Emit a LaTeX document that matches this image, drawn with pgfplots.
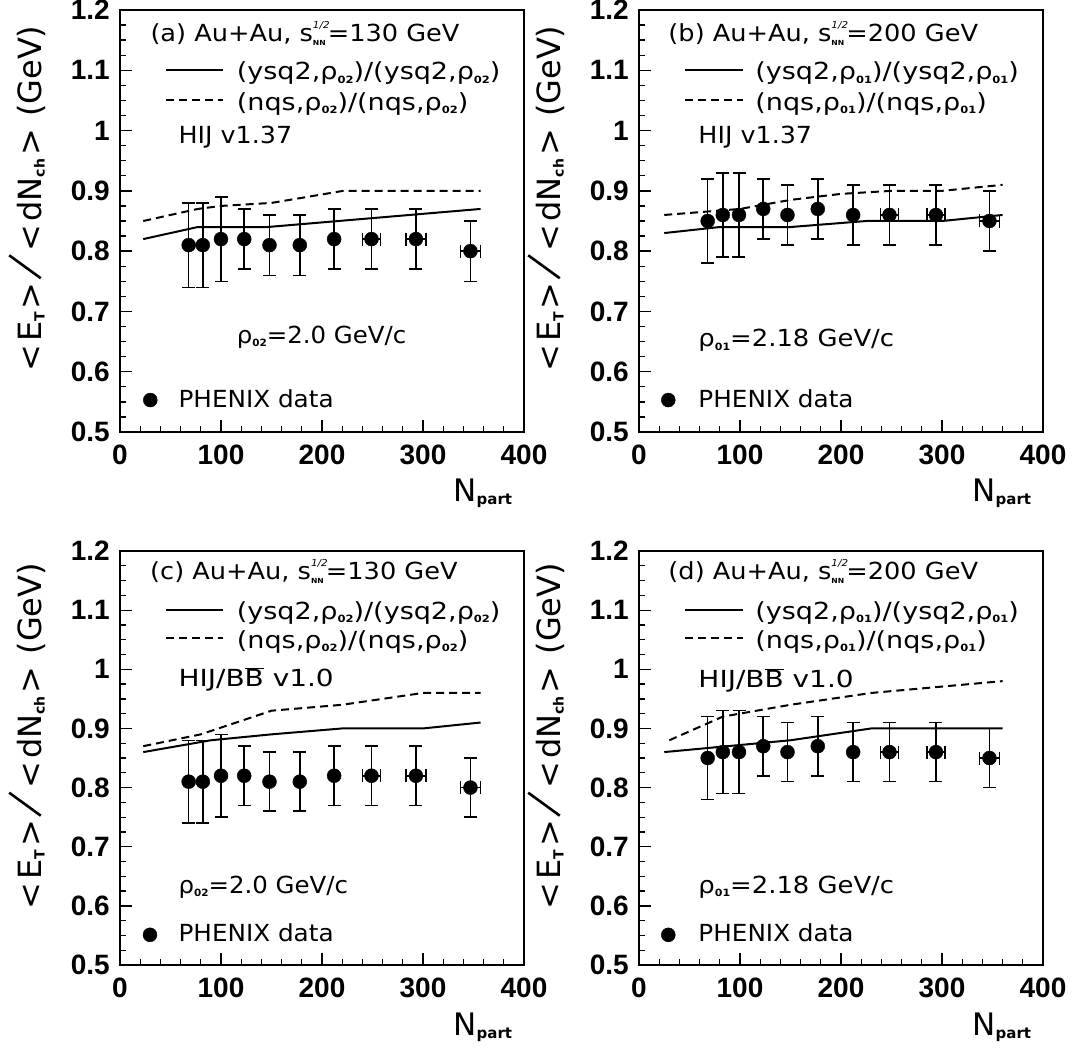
\documentclass[border=0pt]{standalone}
\usepackage{fontspec}
\usepackage{graphicx}
\usepackage{pgfplots}
\usepackage{pgfplotstable}
\pgfplotsset{compat=1.18}
\setmainfont{DejaVu Sans}
\newfontfamily\tickfont{Liberation Sans}
\newcommand{\ann}{\fontsize{23.5}{26}\selectfont}
\newcommand{\sx}[2]{\scalebox{#1}[1]{#2}}
\newcommand{\subs}[1]{\raisebox{-0.25ex}{\fontsize{10}{10}\selectfont\bfseries #1}}
\newcommand{\snn}{s\rlap{\raisebox{1.05ex}{\fontsize{9.5}{9.5}\selectfont\itshape 1/2}}\raisebox{-0.3ex}{\fontsize{7}{7}\selectfont\bfseries NN}\kern2pt}
\newcommand{\ysub}[1]{\raisebox{-3pt}{\fontsize{14}{14}\selectfont\bfseries #1}}
\newcommand{\bbar}{\(\overline{\hbox{B}}\)}
\newcommand{\yslash}{\rotatebox{54}{\rule{39pt}{2.6pt}}}
\newcommand{\yl}{<\kern3pt E\ysub{T}\kern3pt>\kern3pt\yslash\kern3pt<\kern3pt dN\ysub{ch}\kern3pt>\kern2pt\ (GeV)}

\pgfplotstableread{
x y ex ey
68 0.81 0 0.07
82 0.81 0 0.07
100 0.82 0 0.07
123 0.82 0 0.05
148 0.81 0 0.05
178 0.81 0 0.05
212 0.82 0 0.05
249 0.82 9 0.05
293 0.82 10 0.05
347 0.80 10 0.05
}\dataA
\pgfplotstableread{
x y ex ey
68 0.85 0 0.07
83 0.86 0 0.07
99 0.86 0 0.07
123 0.87 0 0.05
147 0.86 0 0.05
177 0.87 0 0.05
212 0.86 0 0.05
248 0.86 9 0.05
294 0.86 9 0.05
347 0.85 10 0.05
}\dataB

\pgfplotsset{
 rootax/.style={
  scale only axis, width=404pt,
  xmin=0, xmax=400, ymin=0.5, ymax=1.2,
  xtick={0,100,200,300,400}, xticklabels={0,100,200,300,400},
  ytick={0.5,0.6,0.7,0.8,0.9,1.0,1.1,1.2}, yticklabels={0.5,0.6,0.7,0.8,0.9,1,1.1,1.2},
  minor x tick num=4, minor y tick num=3,
  tick align=inside, tick pos=left,
  major tick length=12pt, minor tick length=6pt,
  axis line style={line width=1.6pt},
  every tick/.append style={line width=1.3pt, black},
  tick label style={font=\tickfont\bfseries\fontsize{28}{28}\selectfont, inner sep=0pt},
  xticklabel style={anchor=north, yshift=-13pt},
  yticklabel style={anchor=east, xshift=-10pt},
  xlabel={N\raisebox{-3pt}{\fontsize{15}{15}\selectfont\bfseries part}},
  xlabel style={at={(axis description cs:0.825,0)}, anchor=base west, yshift=-70pt, font=\fontsize{31}{31}\selectfont, inner sep=0pt},
  ylabel={\yl},
  ylabel style={at={(axis description cs:-0.23,0.553)}, anchor=center, font=\fontsize{32}{34}\selectfont, inner sep=0pt},
  clip=false,
 },
 modsolid/.style={black, line width=2pt, no marks},
 moddash/.style={black, line width=2pt, no marks, dash pattern=on 8pt off 5pt},
 datapts/.style={only marks, mark=*, mark size=7pt, black,
   error bars/.cd, x dir=both, x explicit, y dir=both, y explicit,
   error bar style={line width=1.5pt, black},
   error mark options={rotate=90, line width=1.5pt, black, mark size=6.5pt}},
 legmark/.style={only marks, mark=*, mark size=7pt, black, forget plot},
}

\begin{document}
\begin{tikzpicture}[x=1pt,y=1pt]
\path[use as bounding box] (0,0) rectangle (1075,1061);

% (a)
\begin{axis}[rootax, height=422pt, at={(120pt,629pt)}, anchor=south west]
\addplot[modsolid] coordinates {(23,0.82) (77,0.84) (146,0.84) (357,0.87)};
\addplot[moddash] coordinates {(23,0.85) (77,0.87) (100,0.875) (150,0.88) (221,0.90) (357,0.90)};
\addplot[datapts] table[x=x, y=y, x error=ex, y error=ey] {\dataA};
\addplot[modsolid, forget plot] coordinates {(46,1.100) (102,1.100)};
\addplot[moddash, forget plot] coordinates {(46,1.051) (102,1.051)};
\addplot[legmark] coordinates {(30,0.553)};
\node[anchor=base west, font=\ann, inner sep=0pt] at (axis cs:30,1.147) {\sx{1.09}{(a) Au+Au, \snn=130 GeV}};
\node[anchor=base west, font=\ann, inner sep=0pt] at (axis cs:115.5,1.084) {\sx{1.15}{(ysq2,ρ\subs{02})/(ysq2,ρ\subs{02})}};
\node[anchor=base west, font=\ann, inner sep=0pt] at (axis cs:115.5,1.034) {\sx{1.15}{(nqs,ρ\subs{02})/(nqs,ρ\subs{02})}};
\node[anchor=base west, font=\ann, inner sep=0pt] at (axis cs:57.8,0.979) {\sx{1.08}{HIJ v1.37}};
\node[anchor=base west, font=\ann, inner sep=0pt] at (axis cs:115.5,0.647) {\sx{1.04}{ρ\subs{02}=2.0 GeV/c}};
\node[anchor=base west, font=\ann, inner sep=0pt] at (axis cs:57.8,0.541) {\sx{1.05}{PHENIX data}};
\end{axis}

% (b)
\begin{axis}[rootax, height=422pt, at={(639pt,629pt)}, anchor=south west]
\addplot[modsolid] coordinates {(25,0.83) (80,0.84) (150,0.84) (225,0.85) (300,0.85) (360,0.86)};
\addplot[moddash] coordinates {(25,0.86) (100,0.87) (150,0.885) (200,0.895) (250,0.90) (300,0.90) (360,0.91)};
\addplot[datapts] table[x=x, y=y, x error=ex, y error=ey] {\dataB};
\addplot[modsolid, forget plot] coordinates {(46,1.100) (103,1.100)};
\addplot[moddash, forget plot] coordinates {(46,1.051) (103,1.051)};
\addplot[legmark] coordinates {(29,0.553)};
\node[anchor=base west, font=\ann, inner sep=0pt] at (axis cs:29,1.147) {\sx{1.09}{(b) Au+Au, \snn=200 GeV}};
\node[anchor=base west, font=\ann, inner sep=0pt] at (axis cs:115,1.084) {\sx{1.15}{(ysq2,ρ\subs{01})/(ysq2,ρ\subs{01})}};
\node[anchor=base west, font=\ann, inner sep=0pt] at (axis cs:115,1.034) {\sx{1.15}{(nqs,ρ\subs{01})/(nqs,ρ\subs{01})}};
\node[anchor=base west, font=\ann, inner sep=0pt] at (axis cs:58.7,0.979) {\sx{1.08}{HIJ v1.37}};
\node[anchor=base west, font=\ann, inner sep=0pt] at (axis cs:58.7,0.641) {\sx{1.10}{ρ\subs{01}=2.18 GeV/c}};
\node[anchor=base west, font=\ann, inner sep=0pt] at (axis cs:58.7,0.541) {\sx{1.05}{PHENIX data}};
\end{axis}

% (c)
\begin{axis}[rootax, height=414pt, at={(120pt,96pt)}, anchor=south west]
\addplot[modsolid] coordinates {(23,0.86) (90,0.88) (150,0.89) (220,0.90) (300,0.90) (357,0.91)};
\addplot[moddash] coordinates {(23,0.87) (80,0.89) (150,0.93) (220,0.94) (300,0.96) (357,0.96)};
\addplot[datapts] table[x=x, y=y, x error=ex, y error=ey] {\dataA};
\addplot[modsolid, forget plot] coordinates {(46,1.101) (102,1.101)};
\addplot[moddash, forget plot] coordinates {(46,1.053) (102,1.053)};
\addplot[legmark] coordinates {(29.7,0.551)};
\node[anchor=base west, font=\ann, inner sep=0pt] at (axis cs:29.7,1.151) {\sx{1.09}{(c) Au+Au, \snn=130 GeV}};
\node[anchor=base west, font=\ann, inner sep=0pt] at (axis cs:115.5,1.085) {\sx{1.15}{(ysq2,ρ\subs{02})/(ysq2,ρ\subs{02})}};
\node[anchor=base west, font=\ann, inner sep=0pt] at (axis cs:115.5,1.036) {\sx{1.15}{(nqs,ρ\subs{02})/(nqs,ρ\subs{02})}};
\node[anchor=base west, font=\ann, inner sep=0pt] at (axis cs:57.8,0.971) {\sx{1.19}{HIJ/B\bbar\ v1.0}};
\node[anchor=base west, font=\ann, inner sep=0pt] at (axis cs:57.8,0.621) {\sx{1.04}{ρ\subs{02}=2.0 GeV/c}};
\node[anchor=base west, font=\ann, inner sep=0pt] at (axis cs:57.8,0.539) {\sx{1.05}{PHENIX data}};
\end{axis}

% (d)
\begin{axis}[rootax, height=414pt, at={(639pt,96pt)}, anchor=south west]
\addplot[modsolid] coordinates {(25,0.86) (150,0.88) (230,0.90) (360,0.90)};
\addplot[moddash] coordinates {(30,0.88) (83,0.92) (150,0.94) (230,0.96) (360,0.98)};
\addplot[datapts] table[x=x, y=y, x error=ex, y error=ey] {\dataB};
\addplot[modsolid, forget plot] coordinates {(46,1.101) (103,1.101)};
\addplot[moddash, forget plot] coordinates {(46,1.053) (103,1.053)};
\addplot[legmark] coordinates {(29,0.551)};
\node[anchor=base west, font=\ann, inner sep=0pt] at (axis cs:29,1.151) {\sx{1.09}{(d) Au+Au, \snn=200 GeV}};
\node[anchor=base west, font=\ann, inner sep=0pt] at (axis cs:115,1.085) {\sx{1.15}{(ysq2,ρ\subs{01})/(ysq2,ρ\subs{01})}};
\node[anchor=base west, font=\ann, inner sep=0pt] at (axis cs:115,1.036) {\sx{1.15}{(nqs,ρ\subs{01})/(nqs,ρ\subs{01})}};
\node[anchor=base west, font=\ann, inner sep=0pt] at (axis cs:58.7,0.969) {\sx{1.19}{HIJ/B\bbar\ v1.0}};
\node[anchor=base west, font=\ann, inner sep=0pt] at (axis cs:58.7,0.621) {\sx{1.10}{ρ\subs{01}=2.18 GeV/c}};
\node[anchor=base west, font=\ann, inner sep=0pt] at (axis cs:58.7,0.539) {\sx{1.05}{PHENIX data}};
\end{axis}
\end{tikzpicture}
\end{document}
